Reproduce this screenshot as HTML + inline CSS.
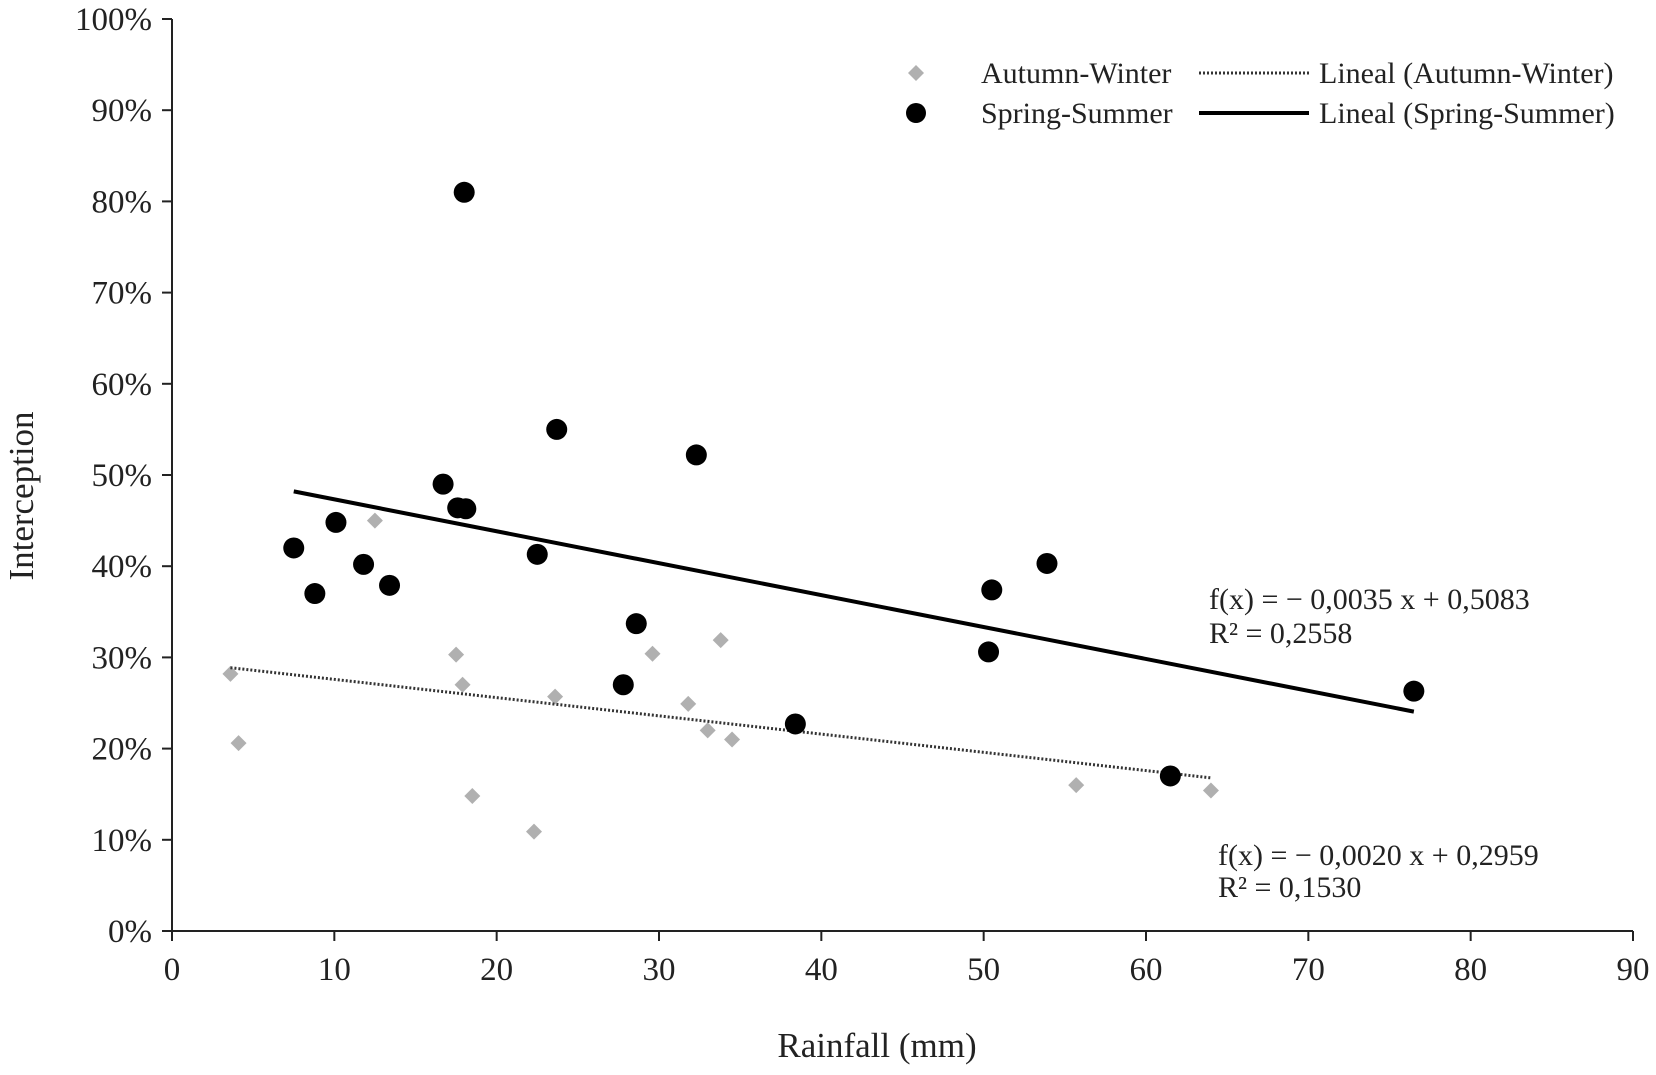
<!DOCTYPE html>
<html><head><meta charset="utf-8"><style>
html,body{margin:0;padding:0;background:#fff;}
svg text{font-family:"Liberation Serif",serif;fill:#222;}
</style></head><body>
<svg id="chart" width="1656" height="1070">
<g id="axes"></g><g id="marks"></g>
<g>
<path d="M916 65 L924 73 L916 81 L908 73 Z" fill="#b0b0b0"/>
<text x="981" y="83" font-size="30">Autumn-Winter</text>
<line x1="1199" y1="73" x2="1309" y2="73" stroke="#333" stroke-width="3" stroke-dasharray="2,2"/>
<text x="1319" y="83" font-size="30">Lineal (Autumn-Winter)</text>
<circle cx="916" cy="113" r="10" fill="#000"/>
<text x="981" y="123" font-size="30">Spring-Summer</text>
<line x1="1199" y1="113" x2="1309" y2="113" stroke="#000" stroke-width="4"/>
<text x="1319" y="123" font-size="30">Lineal (Spring-Summer)</text>
</g>
<text x="1209" y="609" font-size="30">f(x) = − 0,0035 x + 0,5083</text>
<text x="1209" y="643" font-size="30">R² = 0,2558</text>
<text x="1218" y="865" font-size="30">f(x) = − 0,0020 x + 0,2959</text>
<text x="1218" y="897" font-size="30">R² = 0,1530</text>
<text x="877" y="1057" font-size="35" text-anchor="middle">Rainfall (mm)</text>
<text x="0" y="0" font-size="35" text-anchor="middle" transform="translate(33,496) rotate(-90)">Interception</text>
</svg>
<script>
const xTicks=[0,10,20,30,40,50,60,70,80,90];
const yTicks=[0,10,20,30,40,50,60,70,80,90,100];
const springX=[7.5,8.8,10.1,11.8,13.4,16.7,17.6,18.1,18,22.5,23.7,27.8,28.6,32.3,38.4,50.3,50.5,53.9,61.5,76.5];
const springY=[42,37,44.8,40.2,37.9,49,46.4,46.3,81,41.3,55,27,33.7,52.2,22.7,30.6,37.4,40.3,17,26.3];
const autumnX=[3.6,4.1,12.5,17.5,17.9,18.5,22.3,23.6,29.6,31.8,33,33.8,34.5,55.7,64];
const autumnY=[28.2,20.6,45,30.3,27,14.8,10.9,25.7,30.4,24.9,22,31.9,21,16,15.4];
const springTrend=[-0.0035,0.5083];
const autumnTrend=[-0.0020,0.2959];
const NS='http://www.w3.org/2000/svg';
const sx=v=>172+v*(1633-172)/90;
const sy=v=>931-v*(931-19)/100;
function mk(t,a,p){const e=document.createElementNS(NS,t);for(const k in a)e.setAttribute(k,a[k]);p.appendChild(e);return e;}
const ax=document.getElementById('axes'),mg=document.getElementById('marks');
let l=mk('line',{x1:172,y1:19,x2:172,y2:931,stroke:'#222','stroke-width':2},ax);


l=mk('line',{x1:172,y1:931,x2:1633,y2:931,stroke:'#222','stroke-width':2},ax);


xTicks.forEach(v=>{mk('line',{x1:sx(v),y1:931,x2:sx(v),y2:941,stroke:'#222','stroke-width':2},ax);
const t=mk('text',{x:sx(v),y:980,'font-size':33,'text-anchor':'middle'},ax);t.textContent=v;

});
yTicks.forEach(v=>{mk('line',{x1:162,y1:sy(v),x2:172,y2:sy(v),stroke:'#222','stroke-width':2},ax);
const t=mk('text',{x:152,y:sy(v)+11,'font-size':33,'text-anchor':'end'},ax);t.textContent=v+'%';

});
autumnX.forEach((x,i)=>{const cx=sx(x),cy=sy(autumnY[i]);
const p=mk('path',{d:`M${cx} ${cy-8}L${cx+8} ${cy}L${cx} ${cy+8}L${cx-8} ${cy}Z`,fill:'#b0b0b0'},mg);

});
function trend(c,x0,x1,attrs,name){const e=mk('line',Object.assign({x1:sx(x0),y1:sy((c[0]*x0+c[1])*100),x2:sx(x1),y2:sy((c[0]*x1+c[1])*100)},attrs),mg);

}
trend(autumnTrend,Math.min(...autumnX),Math.max(...autumnX),{stroke:'#333','stroke-width':3,'stroke-dasharray':'2,2'},'autumn-trendline');
trend(springTrend,Math.min(...springX),Math.max(...springX),{stroke:'#000','stroke-width':4},'spring-trendline');
springX.forEach((x,i)=>{const c=mk('circle',{cx:sx(x),cy:sy(springY[i]),r:10.5,fill:'#000'},mg);

});
</script>
</body></html>
